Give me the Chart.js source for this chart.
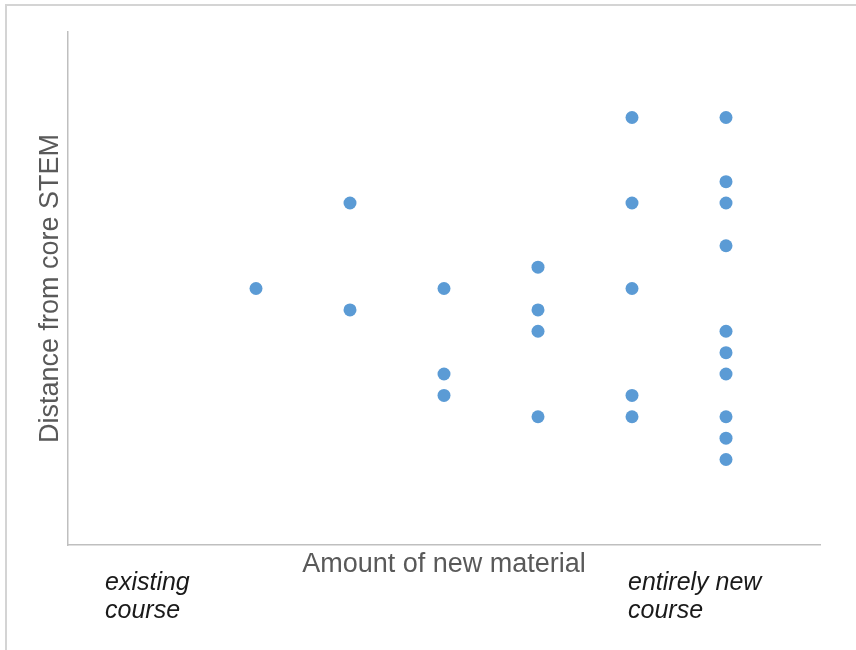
<!DOCTYPE html>
<html>
<head>
<meta charset="utf-8">
<script src="https://cdn.jsdelivr.net/npm/chart.js@4"></script>
<style>
  html, body { margin: 0; padding: 0; background: #fff; }
  #wrap { position: relative; width: 856px; height: 650px; }
</style>
</head>
<body>
<div id="wrap"><canvas id="chart" width="856" height="650"></canvas></div>
<script>
// each column = one amount of new material, values = distance from core STEM
const columns = [2, 3, 4, 5, 6, 7];
const distances = [
    [12],
    [16, 11],
    [12, 8, 7],
    [13, 11, 10, 6],
    [20, 16, 12, 7, 6],
    [20, 17, 16, 14, 10, 9, 8, 6, 5, 4]
];
const xTitle = "Amount of new material";
const yTitle = "Distance from core STEM";
const leftNote = ["existing", "course"];
const rightNote = ["entirely new", "course"];

const points = [];
columns.forEach(function (c, i) {
    distances[i].forEach(function (d) {
        points.push({ x: c, y: d });
    });
});

// page frame + italic notes under the x axis
const extras = {
    id: "extras",
    beforeDraw: function (chart) {
        const ctx = chart.ctx;
        ctx.save();
        ctx.strokeStyle = "#d4d4d4";
        ctx.lineWidth = 2;
        ctx.beginPath();
        ctx.moveTo(6, 650);
        ctx.lineTo(6, 5);
        ctx.lineTo(856, 5);
        ctx.stroke();
        ctx.restore();
    },
    afterDraw: function (chart) {
        const ctx = chart.ctx;
        const area = chart.chartArea;
        ctx.save();
        ctx.font = "italic 25px 'Liberation Sans', Arial, sans-serif";
        ctx.fillStyle = "#1a1a1a";
        ctx.textAlign = "left";
        ctx.textBaseline = "alphabetic";
        leftNote.forEach(function (t, i) {
            ctx.fillText(t, area.left + 37, area.bottom + 45 + i * 28);
        });
        rightNote.forEach(function (t, i) {
            ctx.fillText(t, area.left + 560, area.bottom + 45 + i * 28);
        });
        ctx.restore();
    }
};

new Chart(document.getElementById("chart"), {
    type: "scatter",
    data: {
        datasets: [{
            data: points,
            backgroundColor: "#5b9bd5",
            borderColor: "#5b9bd5",
            pointRadius: 6.5,
            pointHoverRadius: 6.5,
            borderWidth: 0
        }]
    },
    options: {
        responsive: false,
        animation: false,
        events: [],
        layout: { padding: { left: 34.8, right: 36, top: 32, bottom: 68.8 } },
        plugins: {
            legend: { display: false },
            tooltip: { enabled: false }
        },
        scales: {
            x: {
                type: "linear",
                min: 0,
                max: 8,
                ticks: { display: false },
                grid: { display: false, drawTicks: false },
                border: { display: true, color: "#bfbfbf", width: 1.5 },
                title: {
                    display: true,
                    text: xTitle,
                    color: "#595959",
                    font: { family: "'Liberation Sans', Arial, sans-serif", size: 27 },
                    padding: { top: 3.8, bottom: 0 }
                }
            },
            y: {
                min: 0,
                max: 24,
                ticks: { display: false },
                grid: { display: false, drawTicks: false },
                border: { display: true, color: "#bfbfbf", width: 1.5 },
                title: {
                    display: true,
                    text: yTitle,
                    color: "#595959",
                    font: { family: "'Liberation Sans', Arial, sans-serif", size: 27 },
                    padding: { top: 0, bottom: 0.8 }
                }
            }
        }
    },
    plugins: [extras]
});
</script>
</body>
</html>
